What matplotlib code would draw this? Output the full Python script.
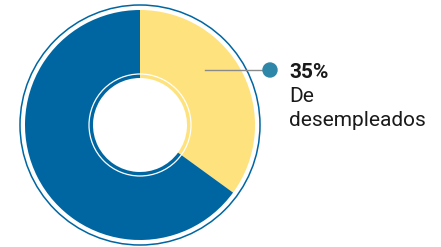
import matplotlib
matplotlib.use("Agg")
import matplotlib.pyplot as plt
from matplotlib.patches import Circle

# data
labels = ["De desempleados", "Resto"]
values = [35, 65]
colors = ["#fee27d", "#0066a1"]
pct_label = "35%"
desc_lines = ["De", "desempleados"]

W, H = 441, 247
fig = plt.figure(figsize=(W / 100, H / 100), dpi=100)
ax = fig.add_axes([0, 0, 1, 1])

cx, cy = 140, H - 125
r_out, r_in = 115, 47

ax.pie(values, colors=colors, startangle=90, counterclock=False,
       center=(cx, cy), radius=r_out,
       wedgeprops=dict(width=r_out - r_in, linewidth=0))

# thin outline rings
ax.add_patch(Circle((cx, cy), r_out + 5, fill=False, ec="#0066a1", lw=1.1))
ax.add_patch(Circle((cx, cy), r_in + 4, fill=False, ec="white", lw=0.9))

# annotation
ly = H - 70
ax.plot([205, 270], [ly, ly], color="#8a8a8a", lw=1)
ax.add_patch(Circle((270, ly), 7, color="#2e86a8", zorder=5))

ax.text(289, H - 78, pct_label, fontsize=15, fontweight="bold",
        family="Roboto", color="#1a1a1a", va="baseline")
ax.text(289, H - 102, desc_lines[0], fontsize=15,
        family="Roboto", color="#1a1a1a", va="baseline")
ax.text(289, H - 126, desc_lines[1], fontsize=15,
        family="Roboto", color="#1a1a1a", va="baseline")

ax.set_xlim(0, W)
ax.set_ylim(0, H)
ax.set_aspect("equal")
ax.axis("off")

fig.savefig("out.png", dpi=100)
